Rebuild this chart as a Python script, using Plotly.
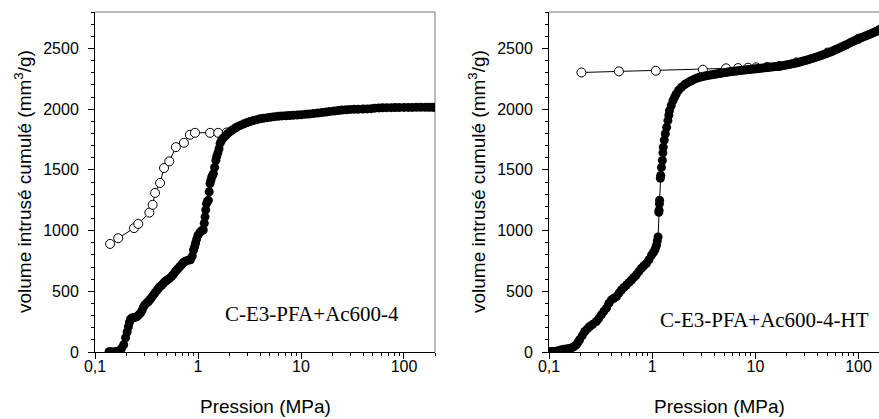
import math
import plotly.graph_objects as go

# ---------------- data ----------------
# Left panel: C-E3-PFA+Ac600-4
left_intr_p = [0.137, 0.143, 0.150, 0.158, 0.166, 0.175, 0.181, 0.190, 0.198, 0.205, 0.211, 0.216,
               0.221, 0.227, 0.236, 0.246, 0.256, 0.266, 0.276, 0.287, 0.296, 0.306, 0.318, 0.330,
               0.342, 0.356, 0.370, 0.383, 0.398, 0.414, 0.430, 0.446, 0.462, 0.478, 0.497, 0.516,
               0.535, 0.556, 0.578, 0.600, 0.621, 0.645, 0.670, 0.695, 0.720, 0.748, 0.777, 0.810,
               0.845, 0.880, 0.905, 0.925, 0.945, 0.970, 1.000, 1.045, 1.085, 1.125, 1.150, 1.170,
               1.190, 1.210, 1.235, 1.260, 1.285, 1.310, 1.335, 1.360, 1.385, 1.410, 1.450, 1.490,
               1.520, 1.560, 1.600, 1.640, 1.690, 1.750, 1.850, 1.950, 2.050, 2.150, 2.300, 2.450,
               2.600, 2.800, 3.000, 3.200, 3.450, 3.700, 4.000, 4.300, 4.700, 5.100, 5.500, 6.000,
               6.500, 7.100, 7.700, 8.400, 9.200, 10.0, 11.0, 12.0, 13.2, 14.5, 16.0, 17.5, 19.0,
               21.0, 23.0, 25.0, 27.5, 30.0, 33.0, 36.0, 40.0, 44.0, 48.0, 52.0, 57.0, 62.0, 68.0,
               75.0, 82.0, 90.0, 100.0, 110.0, 120.0, 132.0, 145.0, 160.0, 175.0, 190.0, 200.0]
left_intr_v = [3, 2, 0, 3, 6, 12, 30, 60, 117, 165, 208, 245,
               270, 279, 282, 286, 292, 306, 320, 345, 372, 390, 405, 415,
               432, 452, 470, 488, 505, 525, 540, 552, 566, 580, 590, 600,
               610, 625, 640, 660, 675, 690, 705, 720, 735, 745, 752, 757,
               760, 790, 840, 865, 894, 930, 962, 985, 1000, 1005, 1060, 1113,
               1170, 1222, 1240, 1250, 1320, 1387, 1415, 1441, 1455, 1469, 1520, 1578,
               1610, 1640, 1674, 1720, 1742, 1760, 1780, 1800, 1815, 1828, 1845, 1858,
               1868, 1880, 1890, 1898, 1906, 1913, 1920, 1925, 1930, 1934, 1938, 1941,
               1944, 1946, 1948, 1950, 1952, 1954, 1957, 1960, 1964, 1968, 1972, 1976, 1980,
               1985, 1989, 1992, 1995, 1998, 1999, 2000, 2001, 2002, 2004, 2008, 2010, 2011, 2012,
               2012, 2013, 2013, 2014, 2014, 2014, 2015, 2015, 2015, 2015, 2015, 2015]

left_extr_p = [0.140, 0.168, 0.239, 0.263, 0.337, 0.363, 0.383, 0.428, 0.468, 0.526, 0.610,
               0.730, 0.835, 0.935, 1.310, 1.570, 1.900]
left_extr_v = [890, 937, 1020, 1055, 1148, 1212, 1310, 1392, 1515, 1570, 1687,
               1723, 1789, 1805, 1805, 1805, 1808]

# Right panel: C-E3-PFA+Ac600-4-HT
right_intr_p = [0.100, 0.107, 0.114, 0.122, 0.132, 0.140, 0.147, 0.156, 0.165, 0.175, 0.184, 0.191,
                0.198, 0.210, 0.222, 0.235, 0.248, 0.265, 0.288, 0.303, 0.321, 0.340, 0.360, 0.380,
                0.402, 0.425, 0.450, 0.476, 0.503, 0.532, 0.563, 0.596, 0.630, 0.665, 0.700, 0.742,
                0.786, 0.830, 0.880, 0.930, 0.985, 1.025, 1.060, 1.080, 1.100, 1.120, 1.140, 1.160,
                1.165, 1.175, 1.180, 1.200, 1.210, 1.230, 1.255, 1.270, 1.280, 1.310, 1.340, 1.380,
                1.420, 1.450, 1.470, 1.530, 1.590, 1.650, 1.710, 1.800, 1.920,
                2.05, 2.15, 2.25, 2.36, 2.48, 2.60, 2.73, 2.87, 3.01, 3.16, 3.32, 3.48, 3.66, 3.84,
                4.03, 4.23, 4.44, 4.66, 4.90, 5.14, 5.40, 5.67, 5.95, 6.25, 6.56, 6.89, 7.23, 7.59,
                7.97, 8.37, 8.79, 9.23, 9.69, 10.2, 10.7, 11.2, 11.8, 12.4, 13.0, 13.6, 14.3, 15.0,
                15.8, 16.6, 17.4, 18.3, 19.2, 20.1, 21.1, 22.2, 23.3, 24.5, 25.7, 27.0, 28.3, 29.7,
                31.2, 32.8, 34.4, 36.1, 37.9, 39.8, 41.8, 43.9, 46.1, 48.4, 50.8, 53.4, 56.0, 58.8,
                61.8, 64.9, 68.1, 71.5, 75.1, 78.9, 82.8, 87.0, 91.3, 95.9, 100.7, 105.7, 111.0,
                116.6, 122.4, 128.5, 135.0, 141.7, 148.8, 156.2, 164.0]
right_intr_v = [5, 5, 5, 10, 19, 22, 25, 28, 33, 45, 60, 80,
                101, 135, 169, 190, 210, 228, 251, 275, 306, 335, 361, 400,
                429, 443, 456, 485, 511, 532, 552, 572, 593, 614, 634, 662,
                689, 710, 730, 760, 798, 818, 839, 860, 880, 915, 948, 1150,
                1167, 1220, 1250, 1430, 1455, 1520, 1578, 1640, 1687, 1745, 1797, 1850,
                1906, 1950, 1988, 2030, 2070, 2100, 2125, 2155, 2180,
                2200, 2212, 2222, 2232, 2241, 2249, 2256, 2262, 2267, 2271, 2275, 2278, 2281, 2284,
                2287, 2290, 2293, 2296, 2299, 2302, 2305, 2307, 2310, 2312, 2314, 2317, 2319, 2321,
                2323, 2325, 2327, 2329, 2331, 2333, 2335, 2337, 2339, 2341, 2343, 2345, 2347, 2349,
                2351, 2353, 2355, 2358, 2361, 2364, 2368, 2372, 2376, 2380, 2384, 2388, 2393, 2398,
                2403, 2408, 2414, 2419, 2425, 2431, 2437, 2443, 2450, 2457, 2464, 2471, 2479, 2487,
                2495, 2503, 2511, 2519, 2528, 2537, 2546, 2555, 2563, 2571, 2579, 2587, 2595,
                2602, 2610, 2617, 2625, 2633, 2641, 2649, 2657]

right_extr_p = [0.206, 0.476, 1.084, 3.10, 5.20, 6.80, 8.50, 10.2, 13.0, 17.0, 25.0, 50.0, 100.0, 158.0]
right_extr_v = [2302, 2311, 2316, 2325, 2336, 2338, 2341, 2344, 2348, 2355, 2385, 2466, 2580, 2650]

x_tickvals = [0.1, 1, 10, 100]
x_ticktext = ["0,1", "1", "10", "100"]
x_minor = [0.2, 0.3, 0.4, 0.5, 0.6, 0.7, 0.8, 0.9, 2, 3, 4, 5, 6, 7, 8, 9,
           20, 30, 40, 50, 60, 70, 80, 90, 200]
y_tickvals = [0, 500, 1000, 1500, 2000, 2500]

panel_labels = ["C-E3-PFA+Ac600-4", "C-E3-PFA+Ac600-4-HT"]
y_title = "volume intrusé cumulé (mm<sup>3</sup>/g)"
x_title = "Pression (MPa)"

# ---------------- figure ----------------
W, H = 879, 419
def fx(px):
    return px / W
def fy(py):
    return 1 - py / H

fig = go.Figure()

open_marker = dict(symbol="circle", size=9, color="white", line=dict(color="black", width=1))
fill_marker = dict(symbol="circle", size=9, color="black", line=dict(color="black", width=0))
line_style = dict(color="black", width=1)

fig.add_trace(go.Scatter(x=left_extr_p, y=left_extr_v, mode="lines+markers",
                         marker=open_marker, line=line_style, xaxis="x", yaxis="y", showlegend=False))
fig.add_trace(go.Scatter(x=left_intr_p, y=left_intr_v, mode="lines+markers",
                         marker=fill_marker, line=line_style, xaxis="x", yaxis="y", showlegend=False))
fig.add_trace(go.Scatter(x=right_extr_p, y=right_extr_v, mode="lines+markers",
                         marker=open_marker, line=line_style, xaxis="x2", yaxis="y2", showlegend=False))
fig.add_trace(go.Scatter(x=right_intr_p, y=right_intr_v, mode="lines+markers",
                         marker=fill_marker, line=line_style, xaxis="x2", yaxis="y2", showlegend=False))

tickfont = dict(family="Liberation Sans, Arial, sans-serif", size=16, color="black")

def xaxis_cfg(domain, rng, anchor):
    return dict(type="log", domain=domain, range=rng, anchor=anchor,
                tickmode="array", tickvals=x_tickvals, ticktext=x_ticktext,
                ticks="outside", ticklen=6, tickwidth=1, tickcolor="black",
                minor=dict(tickmode="array", tickvals=x_minor, ticks="outside",
                           ticklen=3, tickwidth=1, tickcolor="black"),
                showline=True, linecolor="black", linewidth=1,
                showgrid=False, zeroline=False, tickfont=tickfont,
                ticklabelstandoff=-6, automargin=False)

def yaxis_cfg(domain, anchor):
    return dict(domain=domain, range=[0, 2800], anchor=anchor,
                tickmode="array", tickvals=y_tickvals,
                ticks="outside", ticklen=6, tickwidth=1, tickcolor="black",
                minor=dict(dtick=100, tick0=0, ticks="outside", ticklen=3,
                           tickwidth=1, tickcolor="black"),
                showline=True, linecolor="black", linewidth=1,
                showgrid=False, zeroline=False, tickfont=tickfont,
                ticklabelstandoff=6, automargin=False)

ydom = [fy(352), fy(12)]
fig.update_layout(
    width=W, height=H,
    margin=dict(l=0, r=0, t=0, b=0, pad=0),
    paper_bgcolor="white", plot_bgcolor="white",
    xaxis=xaxis_cfg([fx(95), fx(435)], [-1, math.log10(200)], "y"),
    yaxis=yaxis_cfg(ydom, "x"),
    xaxis2=xaxis_cfg([fx(549), 1.0], [-1, 2.198], "y2"),
    yaxis2=yaxis_cfg(ydom, "x2"),
)

border = dict(color="#777777", width=1)
fig.add_shape(type="line", xref="x domain", yref="y domain", x0=0, x1=1, y0=1, y1=1, line=border, layer="below")
fig.add_shape(type="line", xref="x domain", yref="y domain", x0=1, x1=1, y0=0, y1=1, line=border, layer="below")
fig.add_shape(type="line", xref="x2 domain", yref="y2 domain", x0=0, x1=1, y0=1, y1=1, line=border, layer="below")

titlefont = dict(family="Liberation Sans, Arial, sans-serif", size=19, color="black")
serif = dict(family="Liberation Serif, Times New Roman, serif", size=21, color="black")

annots = [
    dict(x=fx(23), y=fy(182), text=y_title, textangle=-90, font=titlefont),
    dict(x=fx(477), y=fy(182), text=y_title, textangle=-90, font=titlefont),
    dict(x=fx(265), y=fy(406), text=x_title, font=titlefont),
    dict(x=fx(719), y=fy(406), text=x_title, font=titlefont),
    dict(x=fx(312), y=fy(314), text=panel_labels[0], font=serif),
    dict(x=fx(764), y=fy(320), text=panel_labels[1], font=serif),
]
for a in annots:
    fig.add_annotation(xref="paper", yref="paper", showarrow=False,
                       xanchor="center", yanchor="middle", **a)

fig.write_html("out.html", config={"displayModeBar": False},
               post_script="document.body.style.margin='0';document.body.style.overflow='hidden';")
